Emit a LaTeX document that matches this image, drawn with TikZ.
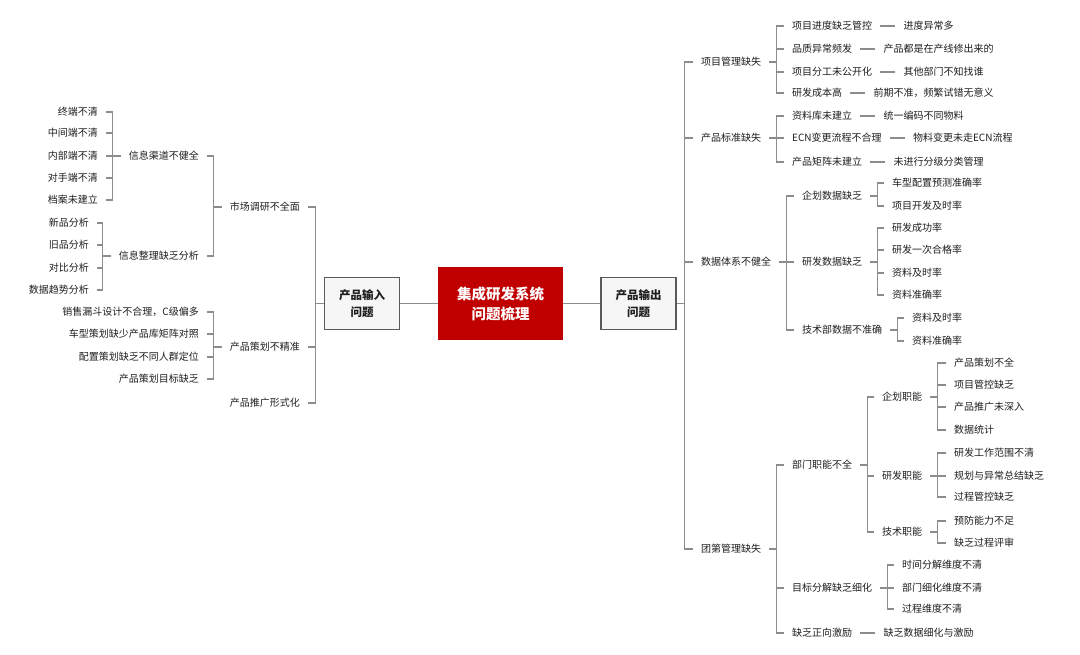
\documentclass[tikz,border=0pt]{standalone}
\usepackage{fontspec}
\setmainfont{Noto Sans CJK SC}
\usetikzlibrary{positioning}
\definecolor{linegray}{HTML}{8C8C8C}
\definecolor{textgray}{HTML}{1E1E1E}
\definecolor{boxgray}{HTML}{5A5A5A}
\definecolor{boxfill}{HTML}{F6F6F6}
\definecolor{rootred}{HTML}{C00000}

\begin{document}
\begin{tikzpicture}[x=1pt,y=-1pt,
	lk/.style={draw=linegray, line width=1.1pt},
	leaf/.style={inner xsep=8pt, inner ysep=1pt, text height=8.8pt, text depth=1.2pt,
		text=textgray, font=\fontsize{10}{12}\selectfont},
	lf/.style={leaf, anchor=east},
	rt/.style={leaf, anchor=west},
	sidebox/.style={draw=boxgray, line width=1.5pt, fill=boxfill, text=textgray,
		minimum width=75pt, minimum height=52pt, align=center,
		font=\bfseries\fontsize{11.5}{16.5}\selectfont},
	rootbox/.style={fill=rootred, text=white, minimum width=125pt, minimum height=73pt,
		align=center, font=\bfseries\fontsize{14.5}{20}\selectfont}]
	\useasboundingbox (0,0) rectangle (1080,655);
	% centre
	\node[sidebox] (inbox) at (362,303.5) {产品输入\\问题};
	\node[rootbox] (root) at (500.5,303.5) {集成研发系统\\问题梳理};
	\node[sidebox] (outbox) at (638.5,303.5) {产品输出\\问题};
	\draw[lk] (inbox.east) -- (root.west);
	\draw[lk] (root.east) -- (outbox.west);
	% left: product input
	\node[lf] (a1) at (308,207) {市场调研不全面};
	\node[lf] (a2) at (308,347) {产品策划不精准};
	\node[lf] (a3) at (308,403) {产品推广形式化};
	\node[lf] (a11) at (207,156) {信息渠道不健全};
	\node[lf] (a12) at (207,256) {信息整理缺乏分析};
	\node[lf] (a21) at (207,312) {销售漏斗设计不合理，C级偏多};
	\node[lf] (a22) at (207,334) {车型策划缺少产品库矩阵对照};
	\node[lf] (a23) at (207,357) {配置策划缺乏不同人群定位};
	\node[lf] (a24) at (207,379) {产品策划目标缺乏};
	\node[lf] (a111) at (106,112) {终端不清};
	\node[lf] (a112) at (106,133) {中间端不清};
	\node[lf] (a113) at (106,156) {内部端不清};
	\node[lf] (a114) at (106,178) {对手端不清};
	\node[lf] (a115) at (106,200) {档案未建立};
	\node[lf] (a121) at (97,223) {新品分析};
	\node[lf] (a122) at (97,245) {旧品分析};
	\node[lf] (a123) at (97,268) {对比分析};
	\node[lf] (a124) at (97,290) {数据趋势分析};
	\draw[lk] (inbox.west) -- ++(-8,0) coordinate (ba);
	\draw[lk] (ba) |- (a1.east) (ba) |- (a2.east) (ba) |- (a3.east);
	\draw[lk] (a1.west) -- ++(-8,0) coordinate (ba1);
	\draw[lk] (ba1) |- (a11.east) (ba1) |- (a12.east);
	\draw[lk] (a2.west) -- ++(-8,0) coordinate (ba2);
	\draw[lk] (ba2) |- (a21.east) (ba2) |- (a22.east) (ba2) |- (a23.east) (ba2) |- (a24.east);
	\draw[lk] (a11.west) -- ++(-8,0) coordinate (ba11);
	\draw[lk] (ba11) |- (a111.east) (ba11) |- (a112.east) (ba11) |- (a113.east)
		(ba11) |- (a114.east) (ba11) |- (a115.east);
	\draw[lk] (a12.west) -- ++(-8,0) coordinate (ba12);
	\draw[lk] (ba12) |- (a121.east) (ba12) |- (a122.east) (ba12) |- (a123.east) (ba12) |- (a124.east);
	% right: product output
	\node[rt] (b1) at (693,62) {项目管理缺失};
	\node[rt] (b2) at (693,138) {产品标准缺失};
	\node[rt] (b3) at (693,262) {数据体系不健全};
	\node[rt] (b4) at (693,549) {团第管理缺失};
	\node[rt] (b11) at (784,26) {项目进度缺乏管控};
	\node[rt] (b12) at (784,49) {品质异常频发};
	\node[rt] (b13) at (784,72) {项目分工未公开化};
	\node[rt] (b14) at (784,93) {研发成本高};
	\node[rt, right=15pt of b11] (b111) {进度异常多};
	\node[rt, right=15pt of b12] (b121) {产品都是在产线修出来的};
	\node[rt, right=15pt of b13] (b131) {其他部门不知找谁};
	\node[rt, right=15pt of b14] (b141) {前期不准，频繁试错无意义};
	\node[rt] (b21) at (784,116) {资料库未建立};
	\node[rt] (b22) at (784,138) {ECN变更流程不合理};
	\node[rt] (b23) at (784,162) {产品矩阵未建立};
	\node[rt, right=15pt of b21] (b211) {统一编码不同物料};
	\node[rt, right=15pt of b22] (b221) {物料变更未走ECN流程};
	\node[rt, right=15pt of b23] (b231) {未进行分级分类管理};
	\node[rt] (b31) at (794,196) {企划数据缺乏};
	\node[rt] (b32) at (794,262) {研发数据缺乏};
	\node[rt] (b33) at (794,330) {技术部数据不准确};
	\node[rt] (b311) at (884,183) {车型配置预测准确率};
	\node[rt] (b312) at (884,206) {项目开发及时率};
	\node[rt] (b321) at (884,228) {研发成功率};
	\node[rt] (b322) at (884,250) {研发一次合格率};
	\node[rt] (b323) at (884,273) {资料及时率};
	\node[rt] (b324) at (884,295) {资料准确率};
	\node[rt] (b331) at (904,318) {资料及时率};
	\node[rt] (b332) at (904,341) {资料准确率};
	\node[rt] (b41) at (784,465) {部门职能不全};
	\node[rt] (b42) at (784,588) {目标分解缺乏细化};
	\node[rt] (b43) at (784,633) {缺乏正向激励};
	\node[rt, right=15pt of b43] (b431) {缺乏数据细化与激励};
	\node[rt] (b411) at (874,397) {企划职能};
	\node[rt] (b412) at (874,476) {研发职能};
	\node[rt] (b413) at (874,532) {技术职能};
	\node[rt] (b4111) at (946,363) {产品策划不全};
	\node[rt] (b4112) at (946,385) {项目管控缺乏};
	\node[rt] (b4113) at (946,407) {产品推广未深入};
	\node[rt] (b4114) at (946,430) {数据统计};
	\node[rt] (b4121) at (946,453) {研发工作范围不清};
	\node[rt] (b4122) at (946,476) {规划与异常总结缺乏};
	\node[rt] (b4123) at (946,497) {过程管控缺乏};
	\node[rt] (b4131) at (946,521) {预防能力不足};
	\node[rt] (b4132) at (946,543) {缺乏过程评审};
	\node[rt] (b421) at (894,565) {时间分解维度不清};
	\node[rt] (b422) at (894,588) {部门细化维度不清};
	\node[rt] (b423) at (894,609) {过程维度不清};
	\draw[lk] (outbox.east) -- ++(8,0) coordinate (bb);
	\draw[lk] (bb) |- (b1.west) (bb) |- (b2.west) (bb) |- (b3.west) (bb) |- (b4.west);
	\draw[lk] (b1.east) -- ++(7.5,0) coordinate (bb1);
	\draw[lk] (bb1) |- (b11.west) (bb1) |- (b12.west) (bb1) |- (b13.west) (bb1) |- (b14.west);
	\draw[lk] (b11.east) -- (b111.west);
	\draw[lk] (b12.east) -- (b121.west);
	\draw[lk] (b13.east) -- (b131.west);
	\draw[lk] (b14.east) -- (b141.west);
	\draw[lk] (b2.east) -- ++(7.5,0) coordinate (bb2);
	\draw[lk] (bb2) |- (b21.west) (bb2) |- (b22.west) (bb2) |- (b23.west);
	\draw[lk] (b21.east) -- (b211.west);
	\draw[lk] (b22.east) -- (b221.west);
	\draw[lk] (b23.east) -- (b231.west);
	\draw[lk] (b3.east) -- ++(7.5,0) coordinate (bb3);
	\draw[lk] (bb3) |- (b31.west) (bb3) |- (b32.west) (bb3) |- (b33.west);
	\draw[lk] (b31.east) -- ++(7.5,0) coordinate (bb31);
	\draw[lk] (bb31) |- (b311.west) (bb31) |- (b312.west);
	\draw[lk] (b32.east) -- ++(7.5,0) coordinate (bb32);
	\draw[lk] (bb32) |- (b321.west) (bb32) |- (b322.west) (bb32) |- (b323.west) (bb32) |- (b324.west);
	\draw[lk] (b33.east) -- ++(7.5,0) coordinate (bb33);
	\draw[lk] (bb33) |- (b331.west) (bb33) |- (b332.west);
	\draw[lk] (b4.east) -- ++(7.5,0) coordinate (bb4);
	\draw[lk] (bb4) |- (b41.west) (bb4) |- (b42.west) (bb4) |- (b43.west);
	\draw[lk] (b43.east) -- (b431.west);
	\draw[lk] (b41.east) -- ++(7.5,0) coordinate (bb41);
	\draw[lk] (bb41) |- (b411.west) (bb41) |- (b412.west) (bb41) |- (b413.west);
	\draw[lk] (b411.east) -- ++(7.5,0) coordinate (bb411);
	\draw[lk] (bb411) |- (b4111.west) (bb411) |- (b4112.west) (bb411) |- (b4113.west) (bb411) |- (b4114.west);
	\draw[lk] (b412.east) -- ++(7.5,0) coordinate (bb412);
	\draw[lk] (bb412) |- (b4121.west) (bb412) |- (b4122.west) (bb412) |- (b4123.west);
	\draw[lk] (b413.east) -- ++(7.5,0) coordinate (bb413);
	\draw[lk] (bb413) |- (b4131.west) (bb413) |- (b4132.west);
	\draw[lk] (b42.east) -- ++(7.5,0) coordinate (bb42);
	\draw[lk] (bb42) |- (b421.west) (bb42) |- (b422.west) (bb42) |- (b423.west);
\end{tikzpicture}
\end{document}
